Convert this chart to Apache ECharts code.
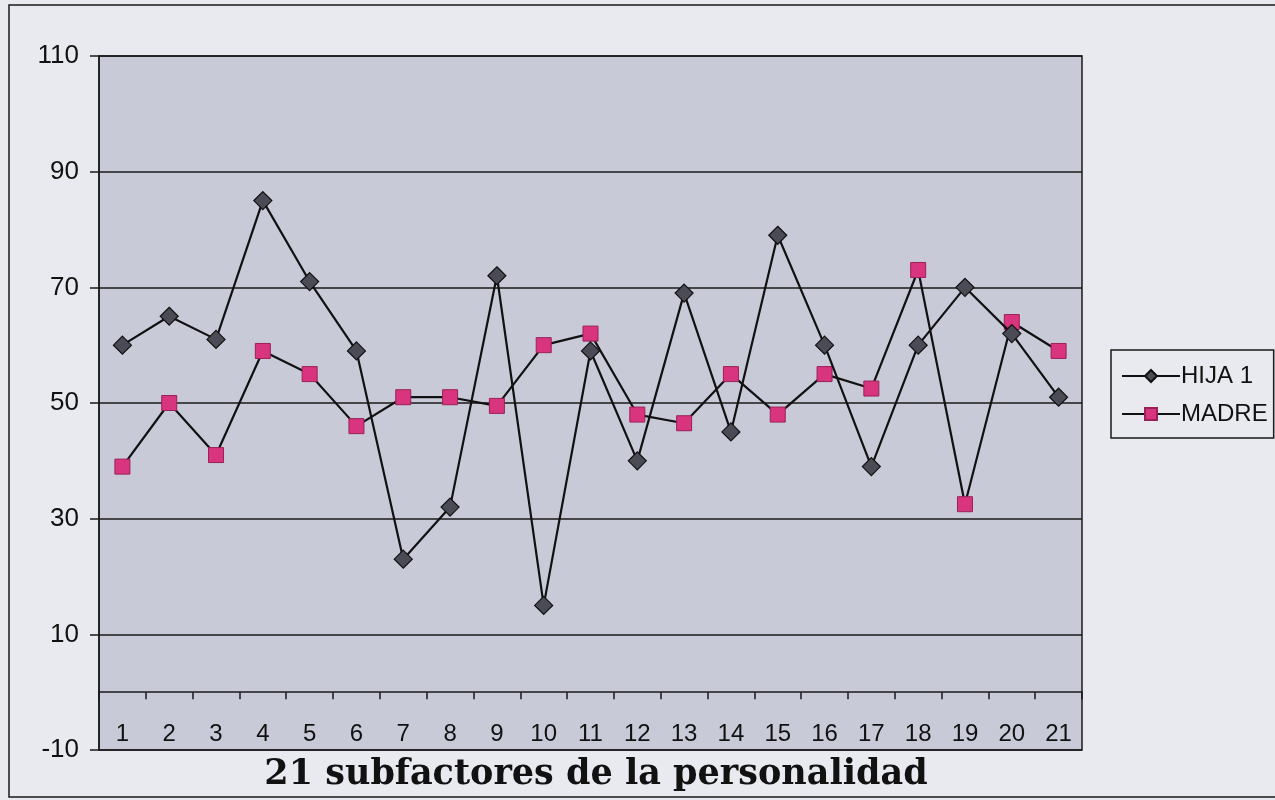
<!DOCTYPE html>
<html><head><meta charset="utf-8">
<script src="https://cdn.jsdelivr.net/npm/echarts@6/dist/echarts.min.js"></script>
<style>html,body{margin:0;padding:0;background:#e9eaef;}#c{width:1275px;height:800px;}</style>
</head><body><div id="c"></div>
<script>
const categories = ['1','2','3','4','5','6','7','8','9','10','11','12','13','14','15','16','17','18','19','20','21'];
const hija1 = [60, 65, 61, 85, 71, 59, 23, 32, 72, 15, 59, 40, 69, 45, 79, 60, 39, 60, 70, 62, 51];
const madre = [39, 50, 41, 59, 55, 46, 51, 51, 49.5, 60, 62, 48, 46.5, 55, 48, 55, 52.5, 73, 32.5, 64, 59];
const yTicks = {min: -10, max: 110, interval: 20};
const xTitle = '21 subfactores de la personalidad';

const sans = "'Liberation Sans',Arial,sans-serif";
const chart = echarts.init(document.getElementById('c'));
chart.setOption({
  backgroundColor: '#e9eaef',
  animation: false,
  grid: {left: 99, top: 56, right: 193, bottom: 50, show: true, backgroundColor: '#c9cad8', borderColor: '#1a1a1a', borderWidth: 1.5},
  graphic: [
    {type: 'rect', shape: {x: 9, y: 5, width: 1300, height: 792}, style: {fill: 'none', stroke: '#1a1a1a', lineWidth: 1.5}, silent: true},
    {type: 'text', x: 596, y: 775, style: {text: xTitle, font: "bold 35px 'DejaVu Serif', serif", fill: '#111', align: 'center', verticalAlign: 'middle'}, silent: true}
  ],
  legend: {
    orient: 'vertical', left: 1111, top: 350,
    borderColor: '#1a1a1a', borderWidth: 1.5, backgroundColor: '#e9eaef',
    padding: [14, 6, 12, 10], itemGap: 14, itemWidth: 58, itemHeight: 15,
    textStyle: {fontFamily: sans, fontSize: 24, color: '#111', padding: [0, 0, 0, -4]},
    data: ['HIJA 1', 'MADRE']
  },
  xAxis: {
    type: 'category', data: categories, boundaryGap: true,
    axisLine: {onZero: true, lineStyle: {color: '#1a1a1a', width: 1.5}},
    axisTick: {show: true, length: 7, lineStyle: {color: '#1a1a1a', width: 1.5}},
    axisLabel: {fontFamily: sans, fontSize: 24, color: '#111', margin: -28, interval: 0},
    splitLine: {show: false}
  },
  yAxis: {
    type: 'value', min: yTicks.min, max: yTicks.max, interval: yTicks.interval,
    axisLine: {show: true, onZero: false, lineStyle: {color: '#1a1a1a', width: 1.5}},
    axisTick: {show: true, length: 9, lineStyle: {color: '#1a1a1a', width: 1.5}},
    axisLabel: {fontFamily: sans, fontSize: 26, color: '#111', margin: 20},
    splitLine: {show: true, lineStyle: {color: '#1a1a1a', width: 1.5}}
  },
  series: [
    {name: 'HIJA 1', type: 'line', data: hija1, symbol: 'diamond', symbolSize: 18,
     lineStyle: {color: '#111', width: 2.2}, itemStyle: {color: '#4b4b55', borderColor: '#111', borderWidth: 1.2}, z: 3},
    {name: 'MADRE', type: 'line', data: madre, symbol: 'rect', symbolSize: 15,
     lineStyle: {color: '#111', width: 2.2}, itemStyle: {color: '#d8357e', borderColor: '#9a2058', borderWidth: 1}, z: 2}
  ]
});
</script></body></html>
